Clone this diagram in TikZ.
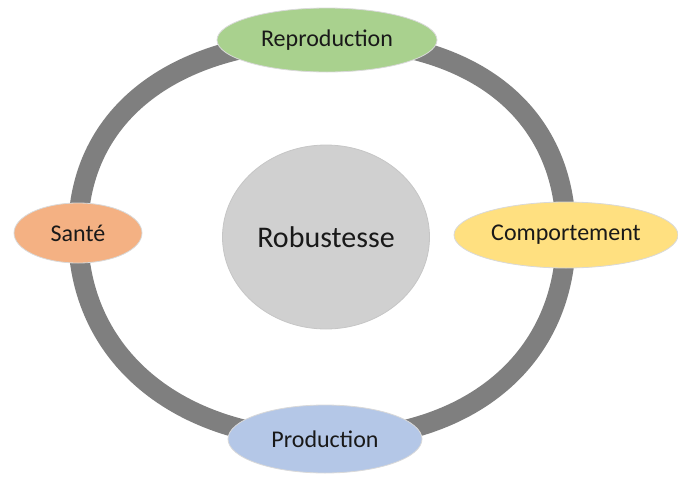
\documentclass[tikz,border=0pt]{standalone}
\usepackage{fontspec}
\setmainfont{Carlito}
\usetikzlibrary{shapes.geometric,backgrounds}

\definecolor{ringgray}{HTML}{7F7F7F}
\definecolor{coregray}{HTML}{D0D0D0}
\definecolor{reprogreen}{HTML}{A9D18E}
\definecolor{santeorange}{HTML}{F4B183}
\definecolor{comportyellow}{HTML}{FFE080}
\definecolor{prodblue}{HTML}{B4C7E7}

\tikzset{
  facet/.style={ellipse, draw=gray!30, line width=0.8pt, inner sep=0pt,
    text=black!90, font=\fontsize{24}{28}\selectfont},
  ring/.style={draw=ringgray, line width=20pt},
}

\begin{document}
\begin{tikzpicture}[x=1pt, y=-1pt]
        \useasboundingbox (0,0) rectangle (678,477);

        \node[ellipse, fill=coregray, draw=gray!45, line width=0.8pt, inner sep=0pt,
          minimum width=207pt, minimum height=184pt, text=black!90,
          font=\fontsize{30}{36}\selectfont] (core) at (326,237) {Robustesse};

        \node[facet, fill=reprogreen, minimum width=220pt, minimum height=64pt] (repro) at (327,40) {Reproduction};
        \node[facet, fill=comportyellow, minimum width=224pt, minimum height=66pt] (comport) at (566,235) {Comportement};
        \node[facet, fill=prodblue, minimum width=194pt, minimum height=68pt] (prod) at (325,439) {Production};
        \node[facet, fill=santeorange, minimum width=128pt, minimum height=60pt] (sante) at (78,233) {Santé};

        \begin{scope}[on background layer]
          \draw[ring] (repro.center) .. controls +(148,0) and +(0,-122) .. (comport.center);
          \draw[ring] (comport.center) .. controls +(0,122) and +(148,0) .. (prod.center);
          \draw[ring] (prod.center) .. controls +(-148,0) and +(0,122) .. (sante.center);
          \draw[ring] (sante.center) .. controls +(0,-122) and +(-148,0) .. (repro.center);
        \end{scope}
      \end{tikzpicture}
\end{document}
